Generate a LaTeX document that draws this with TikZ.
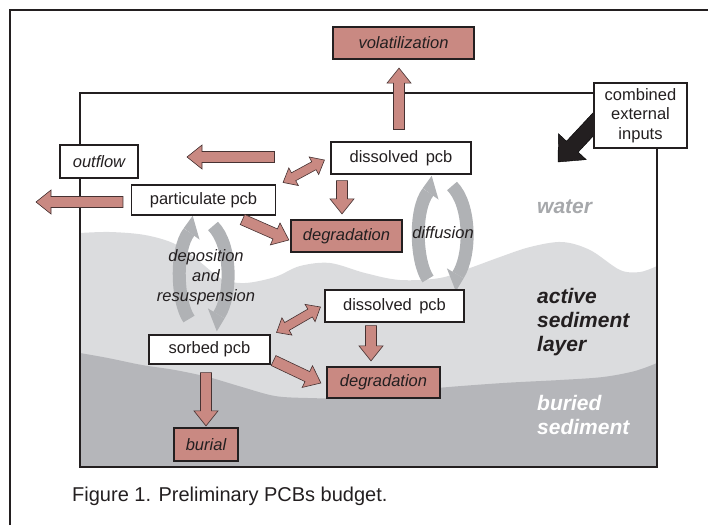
\documentclass[tikz,border=0pt]{standalone}
\usepackage{fontspec}
\setmainfont{Liberation Sans}
\usetikzlibrary{calc}
\definecolor{arrred}{RGB}{201,137,130}
\definecolor{arrline}{RGB}{70,50,50}
\definecolor{lgray}{RGB}{219,220,222}
\definecolor{dgray}{RGB}{181,182,186}
\definecolor{cycg}{RGB}{176,178,181}
\definecolor{wtext}{RGB}{166,168,171}
\definecolor{ink}{RGB}{35,31,32}
\pgfdeclarelayer{bg}
\pgfsetlayers{bg,main}
\tikzset{
  box/.style={draw=ink, fill=white, line width=1.1pt, inner sep=0pt, text=ink,
    font=\fontsize{16.5}{19.5}\selectfont, align=center},
  rbox/.style={box, fill=arrred, line width=2.2pt, font=\fontsize{16.5}{19.5}\selectfont\itshape},
  lbl/.style={font=\fontsize{16.5}{20}\selectfont\itshape, text=ink, align=center, inner sep=0pt},
  layerlbl/.style={font=\fontsize{21}{24}\selectfont\bfseries\itshape, align=left, anchor=west, inner sep=0pt},
  blockarrow/.style n args={3}{line join=miter,
    to path={let \p1=(\tikztostart), \p2=(\tikztotarget), \n1={atan2(\y2-\y1,\x2-\x1)} in
      ($(\p1)+(\n1+90:#1)$) -- ($(\p2)+(\n1+180:#3)+(\n1+90:#1)$) -- ($(\p2)+(\n1+180:#3)+(\n1+90:#2)$)
      -- (\p2) -- ($(\p2)+(\n1+180:#3)+(\n1-90:#2)$) -- ($(\p2)+(\n1+180:#3)+(\n1-90:#1)$)
      -- ($(\p1)+(\n1-90:#1)$) -- cycle}},
  dblockarrow/.style n args={3}{line join=miter,
    to path={let \p1=(\tikztostart), \p2=(\tikztotarget), \n1={atan2(\y2-\y1,\x2-\x1)} in
      ($(\p1)+(\n1:#3)+(\n1+90:#1)$) -- ($(\p2)+(\n1+180:#3)+(\n1+90:#1)$) -- ($(\p2)+(\n1+180:#3)+(\n1+90:#2)$)
      -- (\p2) -- ($(\p2)+(\n1+180:#3)+(\n1-90:#2)$) -- ($(\p2)+(\n1+180:#3)+(\n1-90:#1)$)
      -- ($(\p1)+(\n1:#3)+(\n1-90:#1)$) -- ($(\p1)+(\n1:#3)+(\n1-90:#2)$) -- (\p1)
      -- ($(\p1)+(\n1:#3)+(\n1+90:#2)$) -- cycle}},
  blk/.style={fill=arrred, draw=arrline, line width=0.6pt, blockarrow={5.5pt}{12pt}{15pt}},
  dblk/.style={fill=arrred, draw=arrline, line width=0.6pt, dblockarrow={4.5pt}{10pt}{12pt}},
  inarrow/.style={fill=ink, blockarrow={8pt}{19pt}{21pt}},
  cyc/.pic={
    \draw[cycg, line width=13pt] (-15,46) .. controls (-27,29) and (-29,-23) .. (-15,-41);
    \fill[cycg] (-20.3,-44.8) -- (-11.3,-57.2) -- (-4.47,-33.4) -- cycle;
    \draw[cycg, line width=13pt] (9,-47) .. controls (28,-28) and (28,22) .. (15,42);
    \fill[cycg] (20.6,45.4) -- (12.8,58.3) -- (3.85,35.3) -- cycle;
  }
}
\begin{document}
\begin{tikzpicture}[x=1pt,y=-1pt]
\useasboundingbox (0,0) rectangle (708,525);
% outer frame
\draw[ink, line width=2pt] (10,525) -- (10,10) -- (708,10);

% cycles
\pic at (443,233) {cyc};
\pic at (204,273) {cyc};

% boxes
\node[rbox, minimum width=141pt, minimum height=32pt] (vol) at (403.5,43) {volatilization};
\node[box, minimum width=93pt, minimum height=65pt] (comb) at (640.5,115.5) {combined\\external\\inputs};
\node[box, minimum width=78pt, minimum height=33pt, font=\fontsize{16.5}{19.5}\selectfont\itshape] (outflow) at (99,161.5) {outflow};
\node[box, minimum width=140pt, minimum height=32pt] (dissW) at (401,158) {dissolved\hspace{0.45em}pcb};
\node[box, minimum width=144pt, minimum height=30pt] (partW) at (203.5,200) {particulate pcb};
\node[rbox, minimum width=111pt, minimum height=32pt] (degW) at (346.5,236) {degradation};
\node[box, minimum width=139pt, minimum height=32pt] (dissS) at (394.5,306) {dissolved\hspace{0.45em}pcb};
\node[box, minimum width=121pt, minimum height=29pt] (sorb) at (209.5,349.5) {sorbed pcb};
\node[rbox, minimum width=113pt, minimum height=31pt] (degS) at (383.5,382.5) {degradation};
\node[rbox, minimum width=64pt, minimum height=33pt] (burial) at (206,444.5) {burial};

% labels
\node[lbl] (diffL) at (443,233) {diffusion};
\node[lbl] (depL) at (206,277) {deposition\\and\\resuspension};
\node[layerlbl, text=wtext] (waterL) at (537,207) {water};
\node[layerlbl, text=ink] (actL) at (537,322) {active\\sediment\\layer};
\node[layerlbl, text=white] (burL) at (537,415) {buried\\sediment};
\node[anchor=west, inner sep=0pt, text=ink, font=\fontsize{20}{24}\selectfont] (cap) at (72,496) {Figure 1. Preliminary PCBs budget.};

% connector end points
\coordinate (v1) at ($(dissW.north)+(-2,-12)$);
\coordinate (v2) at ($(vol.south)+(-4.5,8)$);
\coordinate (o1) at ($(dissW.west)+(-56,-1)$);
\coordinate (outTip) at (187,157);
\coordinate (p1) at ($(partW.west)+(-8,2)$);
\coordinate (partTip) at (36,202);
\coordinate (dp1) at ($(partW.north east)+(7,-2)$);
\coordinate (dp2) at ($(dissW.west)+(-6,2)$);
\coordinate (dd1) at ($(dissW.south)+(-59,6)$);
\coordinate (dd2) at ($(degW.north)+(-4.5,-5)$);
\coordinate (pd1) at ($(partW.south)+(39,4)$);
\coordinate (pd2) at ($(degW.west)+(-1,4)$);
\coordinate (ss1) at ($(sorb.north east)+(6,-2)$);
\coordinate (ss2) at ($(dissS.west)+(-4,1)$);
\coordinate (sd1) at ($(dissS.south)+(-23.5,3)$);
\coordinate (sd2) at ($(degS.north)+(-12.5,-5)$);
\coordinate (sg1) at ($(sorb.south east)+(3,-4)$);
\coordinate (sg2) at ($(degS.west)+(-5,0.5)$);
\coordinate (sb1) at ($(sorb.south)+(-3.5,8)$);
\coordinate (sb2) at ($(burial.north)+(0,-1)$);
\coordinate (c1) at ($(comb.west)+(8,0)$);
\coordinate (inTip) at (558,162);

% connectors
\draw[blk] (v1) to (v2);
\draw[blk] (o1) to (outTip);
\draw[blk] (p1) to (partTip);
\draw[dblk] (dp1) to (dp2);
\draw[blk] (dd1) to (dd2);
\draw[blk] (pd1) to (pd2);
\draw[dblk] (ss1) to (ss2);
\draw[blk] (sd1) to (sd2);
\draw[blk] (sg1) to (sg2);
\draw[blk] (sb1) to (sb2);

\begin{pgfonlayer}{bg}
\fill[lgray] plot[smooth, tension=0.55] coordinates {(80,233) (110,232) (145,235) (175,244) (200,262) (222,279) (245,283) (275,277) (300,266) (330,263) (365,273) (400,280) (440,278) (470,268) (500,257) (530,247) (562,242) (590,250) (620,270) (640,272) (657,266)} -- (657,467) -- (80,467) -- cycle;
\fill[dgray] plot[smooth, tension=0.55] coordinates {(80,353) (108,358) (142,365) (175,370) (208,377) (242,387) (275,396) (308,398) (340,398) (380,394) (437,388) (503,383) (560,380) (603,377) (635,371) (657,363)} -- (657,467) -- (80,467) -- cycle;
\draw[ink, line width=1.6pt] (80,93) rectangle (657,467);
\draw[inarrow] (c1) to (inTip);
\end{pgfonlayer}
\end{tikzpicture}
\end{document}
